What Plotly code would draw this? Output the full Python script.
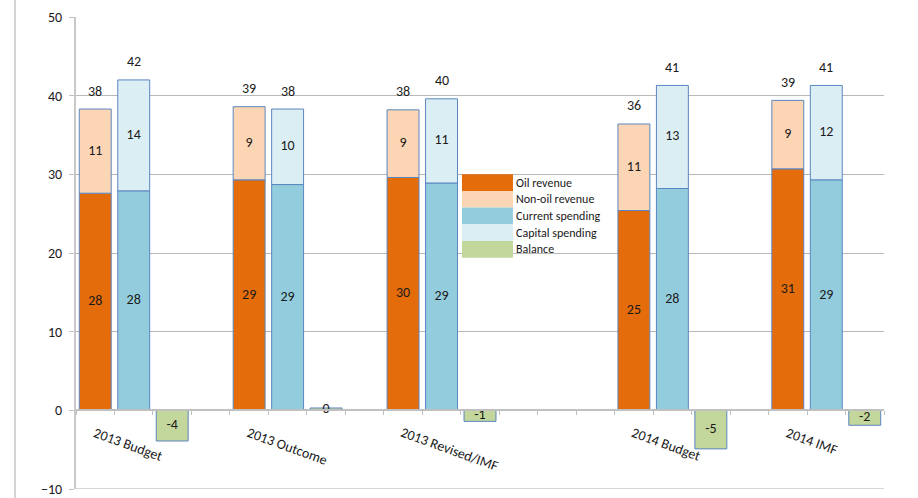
import plotly.graph_objects as go

# ---- data ----
groups = ["2013 Budget", "2013 Outcome", "2013 Revised/IMF", "2014 Budget", "2014 IMF"]
oil_revenue = [27.6, 29.3, 29.6, 25.4, 30.7]
nonoil_revenue = [10.7, 9.3, 8.6, 11.0, 8.7]
current_spending = [27.9, 28.7, 28.9, 28.2, 29.3]
capital_spending = [14.1, 9.6, 10.7, 13.1, 12.0]
balance = [-3.9, 0.3, -1.4, -4.9, -1.9]
series_names = ["Oil revenue", "Non-oil revenue", "Current spending", "Capital spending", "Balance"]
y_ticks = [-10, 0, 10, 20, 30, 40, 50]

# ---- layout helpers ----
group_start = [0, 4, 8, 14, 18]          # slot of the revenue bar for each group
n_slots = 21
rev_x = [s for s in group_start]
spend_x = [s + 1 for s in group_start]
bal_x = [s + 2 for s in group_start]

colors = ["#E46C0A", "#FCD5B5", "#93CDDD", "#DBEEF4", "#C3D69B"]
outline = "#5B86C0"
FONT = "Calibri, Carlito, Lato, sans-serif"
TXT = "#1a1a1a"
BW = 0.83

fig = go.Figure()
fig.add_trace(go.Bar(x=rev_x, y=oil_revenue, name=series_names[0], width=BW,
                     marker=dict(color=colors[0], line=dict(color=outline, width=1))))
fig.add_trace(go.Bar(x=rev_x, y=nonoil_revenue, name=series_names[1], width=BW,
                     marker=dict(color=colors[1], line=dict(color=outline, width=1))))
fig.add_trace(go.Bar(x=spend_x, y=current_spending, name=series_names[2], width=BW,
                     marker=dict(color=colors[2], line=dict(color=outline, width=1))))
fig.add_trace(go.Bar(x=spend_x, y=capital_spending, name=series_names[3], width=BW,
                     marker=dict(color=colors[3], line=dict(color=outline, width=1))))
fig.add_trace(go.Bar(x=bal_x, y=balance, name=series_names[4], width=BW,
                     marker=dict(color=colors[4], line=dict(color=outline, width=1))))

# segment labels (centred in each segment)
lx, ly, lt = [], [], []
for i in range(len(groups)):
    o, n = oil_revenue[i], nonoil_revenue[i]
    c, k = current_spending[i], capital_spending[i]
    b = balance[i]
    lx += [rev_x[i], rev_x[i], spend_x[i], spend_x[i], bal_x[i]]
    ly += [o / 2, o + n / 2, c / 2, c + k / 2, b / 2]
    lt += [f"{o:.0f}", f"{n:.0f}", f"{c:.0f}", f"{k:.0f}", f"{b:.0f}"]
fig.add_trace(go.Scatter(x=lx, y=ly, text=lt, mode="text", textposition="middle center",
                         textfont=dict(family=FONT, size=14, color=TXT),
                         showlegend=False, hoverinfo="skip", cliponaxis=False))

annotations = []
# total labels above stacks
for i in range(len(groups)):
    tr = oil_revenue[i] + nonoil_revenue[i]
    ts = current_spending[i] + capital_spending[i]
    for xv, tv in ((rev_x[i], tr), (spend_x[i], ts)):
        annotations.append(dict(x=xv, y=tv, xref="x", yref="y", text=f"{tv:.0f}",
                                showarrow=False, yanchor="middle", yshift=18,
                                font=dict(family=FONT, size=14, color=TXT)))
# rotated category labels
for i, g in enumerate(groups):
    annotations.append(dict(x=group_start[i] - 0.18, y=0.143, xref="x", yref="paper",
                            text=g, showarrow=False, textangle=20,
                            xanchor="left", yanchor="top",
                            font=dict(family=FONT, size=14, color=TXT)))

# manual legend with wide swatches
shapes = []
lx0, lx1 = 0.4777, 0.5408
ytop, step = 0.6669, 0.03537
for j, nm in enumerate(series_names):
    y1 = ytop - j * step
    y0 = y1 - step
    shapes.append(dict(type="rect", xref="paper", yref="paper", x0=lx0, x1=lx1, y0=y0, y1=y1,
                       fillcolor=colors[j], line=dict(width=0), layer="above"))
    annotations.append(dict(x=lx1 + 0.001, y=(y0 + y1) / 2, xref="paper", yref="paper",
                            text=nm, showarrow=False, xanchor="left", yanchor="middle",
                            font=dict(family=FONT, size=12, color=TXT)))
# outer frame line on the left
shapes.append(dict(type="line", xref="paper", yref="paper", x0=-0.0755, x1=-0.0755,
                   y0=-0.05, y1=1.1, line=dict(color="#d4d4d4", width=2)))
# bottom gridline at -10
shapes.append(dict(type="line", xref="paper", yref="y", x0=0, x1=1, y0=-10, y1=-10,
                   line=dict(color="#c8c8c8", width=1.5), layer="below"))

fig.update_layout(
    width=918, height=498,
    margin=dict(l=76, r=34, t=17, b=9, autoexpand=False),
    barmode="relative",
    showlegend=False,
    plot_bgcolor="white", paper_bgcolor="white",
    font=dict(family=FONT, size=14, color=TXT),
    annotations=annotations,
    shapes=shapes,
    xaxis=dict(range=[-0.5, n_slots - 0.5], anchor="free", position=1 / 6,
               showline=True, linecolor="#c0c0c0", linewidth=1.5,
               tickmode="array", tickvals=[i - 0.5 for i in range(n_slots + 1)],
               ticktext=[""] * (n_slots + 1), ticks="outside", ticklen=4,
               tickcolor="#c0c0c0", showgrid=False, zeroline=False),
    yaxis=dict(range=[-10, 50], tickmode="array", tickvals=y_ticks,
               ticks="outside", ticklen=5, tickcolor="#c0c0c0",
               showline=True, linecolor="#c8c8c8", linewidth=2,
               showgrid=True, gridcolor="#b8b8b8", gridwidth=1,
               ticklabelstandoff=4,
               zeroline=False, tickfont=dict(family=FONT, size=14, color=TXT)),
)

fig.write_html("out.html")
